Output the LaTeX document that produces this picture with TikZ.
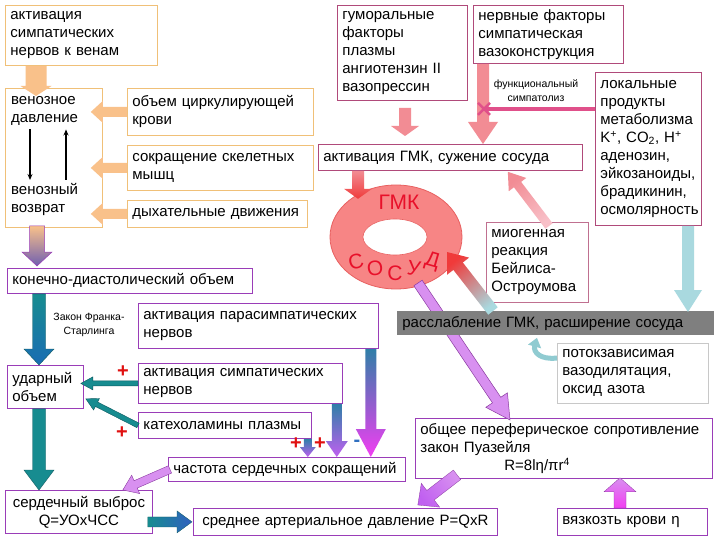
\documentclass[tikz,border=0pt]{standalone}
\usepackage{fontspec}
\setmainfont{Liberation Sans}
\usetikzlibrary{calc,shapes.geometric,arrows.meta}
\definecolor{orB}{HTML}{F0C078}
\definecolor{orF}{HTML}{F9C18A}
\definecolor{puB}{HTML}{9A3DB8}
\definecolor{purF}{HTML}{6F5FB0}
\definecolor{pkB}{HTML}{B04A7A}
\definecolor{pkB2}{HTML}{C07090}
\definecolor{grB}{HTML}{C8C8C8}
\definecolor{grF}{HTML}{7F7F7F}
\definecolor{tealA}{HTML}{2088A0}
\definecolor{tealB}{HTML}{178C90}
\definecolor{tealD}{HTML}{0E5A60}
\definecolor{blueT}{HTML}{2F7FA8}
\definecolor{blueS}{HTML}{3060C0}
\definecolor{magF}{HTML}{F23EF2}
\definecolor{vioF}{HTML}{D890F0}
\definecolor{vioM}{HTML}{C060F0}
\definecolor{vioD}{HTML}{8A3AA0}
\definecolor{pinkF}{HTML}{F28C94}
\definecolor{pinkL}{HTML}{F8C0C8}
\definecolor{redF}{HTML}{F03A3A}
\definecolor{ltBlue}{HTML}{A9D9DF}
\definecolor{ringF}{HTML}{F78585}
\definecolor{ringB}{HTML}{E86060}
\definecolor{ringT}{HTML}{E8102A}
\definecolor{xcol}{HTML}{E0508A}
\definecolor{plusR}{HTML}{E01010}
\definecolor{minusB}{HTML}{3070C0}
\newcommand\fs{\fontsize{15}{18}\selectfont}
\newcommand\boxnode[7]{%
  \pgfmathsetmacro\tw{#4-10}%
  \node[bx, #6, minimum width=#4pt, minimum height=#5pt, text width=\tw pt] (#1) at (#2,#3) {#7};}
% block arrow: [style]{from}{to}{shaft width}{head width}{head length}
\newcommand\barrow[6][]{%
  \path let \p1=#2, \p2=#3 in \pgfextra{%
    \pgfmathsetmacro\bAngA{atan2(\y2-\y1,\x2-\x1)}%
    \pgfmathsetmacro\bLenA{veclen(\x2-\x1,\y2-\y1)}%
    \pgfmathsetmacro\bShA{\bAngA+90}%
    \xdef\bAng{\bAngA}\xdef\bLen{\bLenA}\xdef\bSh{\bShA}\xdef\bX{\x1}\xdef\bY{\y1}};
  \begin{scope}[shift={(\bX,\bY)}, rotate=\bAng, x=1pt, y=1pt]
    \path[#1] (0,-#4/2) -- ({\bLen-#6},-#4/2) -- ({\bLen-#6},-#5/2) -- (\bLen,0)
      -- ({\bLen-#6},#5/2) -- ({\bLen-#6},#4/2) -- (0,#4/2) -- cycle;
  \end{scope}}
\tikzset{
  bx/.style={draw, rectangle, fill=white, line width=0.8pt, inner xsep=5pt, inner ysep=1pt,
    align=left, anchor=north west, font=\fs},
  txt/.style={inner xsep=5pt, inner ysep=1pt, align=left, anchor=north west, font=\fs},
  smalltxt/.style={align=center, font=\fontsize{10.5}{14}\selectfont, inner sep=1pt},
  plus/.style={text=plusR, font=\fontsize{20}{20}\selectfont\bfseries, inner sep=0pt},
  minus/.style={text=minusB, font=\fontsize{20}{20}\selectfont\bfseries, inner sep=0pt},
  ringtxt/.style={text=ringT, font=\fontsize{21}{21}\selectfont, inner sep=0pt},
  grad/.style 2 args={left color=#1, right color=#2, shading angle=\bSh},
}
\begin{document}
\begin{tikzpicture}[x=1pt,y=-1pt]
\fill[white] (0,0) rectangle (720,540);
\useasboundingbox (0,0) rectangle (720,540);
% left column boxes
\boxnode{a1}{5}{5}{152}{60}{draw=orB}{активация\\симпатических\\нервов к венам}
\boxnode{ven}{5}{88}{97}{139}{draw=orB}{}
\node[txt] (vp) at (6,95) {венозное\\давление};
\node[txt] (vr) at (6,182) {венозный\\возврат};
\boxnode{a3}{127}{88}{186}{47}{draw=orB}{объем циркулирующей\\крови}
\boxnode{a4}{127}{145}{186}{45}{draw=orB}{сокращение скелетных\\мышц}
\boxnode{a5}{127}{200}{180}{27}{draw=orB}{дыхательные движения}
\boxnode{kdo}{7}{268}{245}{25}{draw=puB}{конечно-диастолический объем}
\boxnode{a7}{138}{303}{240}{45}{draw=puB}{активация парасимпатических\\нервов}
\boxnode{uo}{7}{365}{76}{43}{draw=puB}{ударный\\объем}
\boxnode{a9}{138}{363}{204}{40}{draw=puB}{активация симпатических\\нервов}
\boxnode{a10}{138}{412}{173}{26}{draw=puB}{катехоламины плазмы}
\boxnode{chss}{168}{457}{237}{24}{draw=puB}{частота сердечных сокращений}
\boxnode{sv}{5}{490}{147}{43}{draw=puB,align=center}{сердечный выброс\\Q=УОxЧСС}
\boxnode{sad}{193}{508}{304}{27}{draw=puB,align=center}{среднее артериальное давление P=QxR}
% right part boxes
\boxnode{b14}{337}{5}{130}{95}{draw=pkB}{гуморальные\\факторы\\плазмы\\ангиотензин II\\вазопрессин}
\boxnode{b15}{473}{5}{150}{58}{draw=pkB}{нервные факторы\\симпатическая\\вазоконструкция}
\node[smalltxt, fill=white] (fs) at (536,91) {функциональный\\симпатолиз};
\boxnode{b17}{595}{72}{106}{153}{draw=pkB}{локальные\\продукты\\метаболизма\\K\textsuperscript{+}, CO\textsubscript{2}, H\textsuperscript{+}\\аденозин,\\эйкозаноиды,\\брадикинин,\\осмолярность}
\boxnode{b18}{318}{144}{264}{26}{draw=pkB}{активация ГМК, сужение сосуда}
\boxnode{b19}{486}{222}{102}{80}{draw=pkB2}{миогенная\\реакция\\Бейлиса-\\Остроумова}
\boxnode{b21}{557}{343}{151}{60}{draw=grB}{потокзависимая\\вазодилятация,\\оксид азота}
\boxnode{b22}{415}{418}{297}{60}{draw=puB}{общее переферическое сопротивление\\закон Пуазейля\\\hspace*{84pt}R=8lη/πr\textsuperscript{4}}
\boxnode{b23}{557}{508}{150}{27}{draw=puB}{вязкозть крови η}
% ring
\node[ellipse, draw=ringB, fill=ringF, line width=0.8pt, minimum width=132pt, minimum height=104pt] (ring) at (396,237) {};
\node[ellipse, draw=ringB, fill=white, line width=0.6pt, minimum width=64pt, minimum height=36pt] (hole) at (395,237) {};
\node[ringtxt] (gmk) at (399,202) {ГМК};
\node[ringtxt, rotate=14] (s1) at (356,262) {С};
\node[ringtxt, rotate=7] (s2) at (375,268) {О};
\node[ringtxt] (s3) at (395,273) {С};
\node[ringtxt, rotate=-8] (s4) at (414,268) {У};
\node[ringtxt, rotate=-16] (s5) at (432,262) {Д};
% black arrows inside venous box
\coordinate (va) at (30,137);
\coordinate (vb) at (66,137);
\draw[line width=1.6pt, -{Stealth[length=6pt,width=5pt]}] ($(vp.south -| va)+(0,3)$) -- ($(vr.north -| va)+(0,-2)$);
\draw[line width=1.6pt, -{Stealth[length=6pt,width=5pt]}] ($(vr.north -| vb)+(0,-2)$) -- ($(vp.south -| vb)+(0,3)$);
% orange arrows
\barrow[fill=orF]{($(a1.south west)+(31,0)$)}{($(ven.north west)+(31,8)$)}{21}{31}{10}
\barrow[fill=orF]{(a3.west)}{($(a3.west -| ven.east)+(-12,0)$)}{10}{22}{12}
\barrow[fill=orF]{(a4.west)}{($(a4.west -| ven.east)+(-12,0)$)}{10}{22}{12}
\barrow[fill=orF]{(a5.west)}{($(a5.west -| ven.east)+(-12,0)$)}{10}{22}{12}
\barrow[grad={orF}{purF}, draw=puB, line width=0.5pt]{($(ven.south west)+(32,-2)$)}{($(kdo.north west)+(30,-2)$)}{15}{30}{14}
% teal arrows
\barrow[grad={tealB}{tealA!80!blue}, draw=tealD, line width=0.4pt]{($(kdo.south west)+(32,0)$)}{($(uo.north west)+(32,0)$)}{13}{30}{16}
\barrow[fill=tealB, draw=tealD, line width=0.4pt]{($(uo.south west)+(32,0)$)}{($(sv.north west)+(34,0)$)}{13}{30}{20}
\barrow[fill=tealB, draw=tealD, line width=0.4pt]{(a9.west)}{($(a9.west -| uo.east)+(-3,0)$)}{5}{13}{12}
\barrow[fill=tealB, draw=tealD, line width=0.4pt]{(a10.west)}{($(uo.south east)+(2,-10)$)}{5}{13}{12}
\barrow[grad={blueT}{vioM}]{($(a10.south east)+(-4,0)$)}{($(a10.south east |- chss.north)+(-4,0)$)}{8}{16}{10}
\barrow[grad={blueT}{vioM}]{($(a9.south east)+(-6,0)$)}{($(a9.south east |- chss.north)+(-6,0)$)}{10}{22}{16}
\barrow[grad={blueT}{magF}]{($(a7.south east)+(-8,0)$)}{($(a7.south east |- chss.north)+(-8,0)$)}{11}{30}{28}
\barrow[fill=vioF, draw=vioD, line width=0.4pt]{($(chss.west)+(2,0)$)}{($(sv.north east)+(-30,0)$)}{8}{20}{14}
\barrow[grad={tealB}{blueS}, draw=tealD, line width=0.3pt]{($(sv.east)+(-5,10)$)}{($(sad.west)+(-1,0)$)}{10}{22}{15}
% signs
\node[plus] (p1) at (123,372) {+};
\node[plus] (p2) at (122,433) {+};
\node[plus] (p3) at (296,444) {+};
\node[plus] (p4) at (320,444) {+};
\node[minus] (m1) at (357,443) {-};
\node[smalltxt] (fr) at (89,325) {Закон Франка-\\Старлинга};
% pink arrows (top)
\barrow[fill=pinkF]{($(b14.south west)+(68,7)$)}{($(b14.south west |- b18.north)+(68,-8)$)}{12}{28}{10}
\barrow[fill=pinkF]{($(b15.south west)+(10,0)$)}{($(b15.south west |- b18.north)+(10,0)$)}{12}{30}{22}
\coordinate (xm) at ($(b15.south west)+(11,45)$);
\draw[line width=4pt, xcol] (b17.west |- xm) -- (xm);
\draw[line width=2.5pt, xcol] ($(xm)+(-6,-6)$) -- ($(xm)+(6,6)$) ($(xm)+(-6,6)$) -- ($(xm)+(6,-6)$);
\barrow[grad={pinkF}{redF}]{($(b18.south west)+(40,0)$)}{($(b18.south west)+(40,28)$)}{12}{28}{10}
\barrow[grad={pinkL}{pinkF}]{($(b19.north west)+(63,4)$)}{($(b18.south east)+(-75,1)$)}{9}{22}{16}
% violet arrow behind gray bar
\barrow[fill=vioF, draw=vioD, line width=0.5pt]{($(ring.center)+(22,46)$)}{($(b22.north west)+(95,2)$)}{10}{26}{24}
% gray bar
\boxnode{gray}{397}{311}{317}{24}{draw=none, fill=grF}{расслабление ГМК, расширение сосуда}
\barrow[fill=ltBlue]{($(b17.south west)+(93,0)$)}{($(b17.south west |- gray.north)+(93,1)$)}{12}{28}{22}
\barrow[grad={ltBlue}{redF}]{($(gray.north west)+(96,0)$)}{($(ring.center)+(51,15)$)}{12}{28}{18}
\draw[line width=5pt, ltBlue!85!teal, -{Triangle[length=9pt,width=13pt]}] ($(b21.north west)+(0,15)$) .. controls ($(b21.north west)+(-17,17)$) and ($(b21.north west)+(-24,9)$) .. ($(gray.south west)+(140,2)$);
% bottom right arrows
\barrow[grad={vioF}{vioM}, draw=vioD, line width=0.3pt]{($(b22.south west)+(42,-4)$)}{($(sad.north east)+(-80,-3)$)}{12}{30}{16}
\barrow[grad={magF}{vioF}, draw=vioD, line width=0.3pt]{($(b23.north west)+(63,0)$)}{($(b23.north west |- b22.south)+(63,-1)$)}{12}{32}{14}
\end{tikzpicture}
\end{document}
